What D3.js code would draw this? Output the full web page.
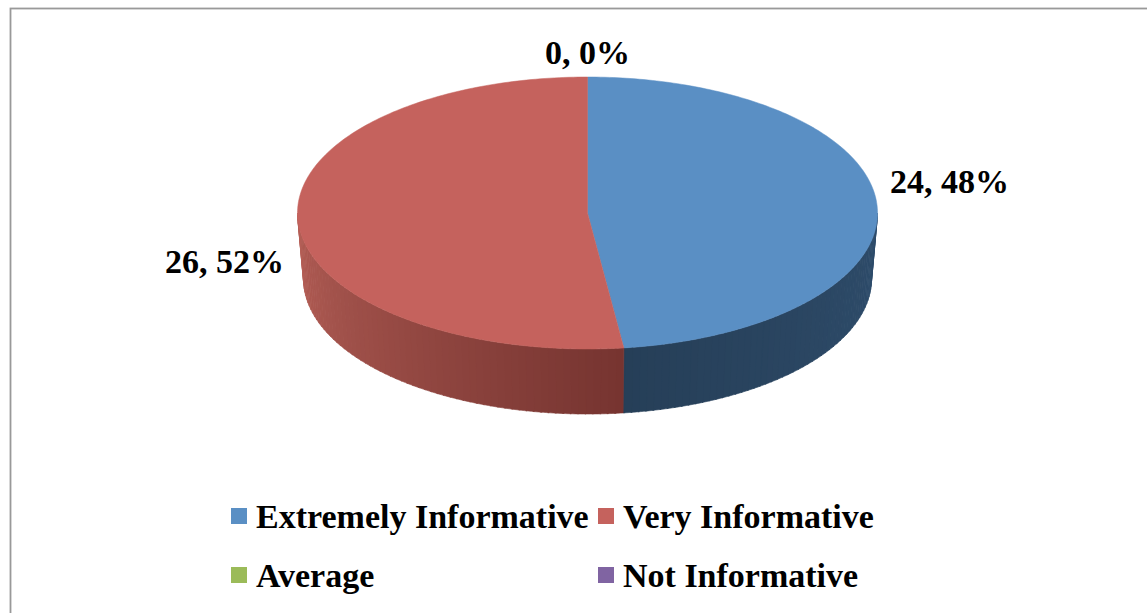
<html>
    <head>
        <script src="https://d3js.org/d3.v7.min.js"></script>
        <style type="text/css">
        body { margin: 0; background: #fff; }
        text { font-family: "Liberation Serif", "DejaVu Serif", serif; font-weight: bold; fill: #000; }
        </style>
    </head>
    <body>
        <div id="chart"></div>

<script type="text/javascript">

// data
const categories = ["Extremely Informative", "Very Informative", "Average", "Not Informative"];
const values = [24, 26, 0, 0];
const topColors = ["#5a8fc4", "#c5625d", "#9bbb59", "#8064a2"];
// wall shades: [lighter end, darker end]
const wallColors = [["#2f4d6c", "#263f58"], ["#b55f57", "#763430"], ["#7d9645", "#62763a"], ["#65507f", "#4f3e63"]];

const W = 1147, H = 613;
const cx = 587.5, cy = 213, rx = 290, ry = 136, depth = 66;
const rxb = rx - 6, ryb = ry - 1;

let svg = d3.select("#chart")
    .append("svg")
        .attr("width", W)
        .attr("height", H);

// frame
svg.append("rect")
    .attr("x", 10.5).attr("y", 8.5)
    .attr("width", W + 20).attr("height", H + 20)
    .attr("fill", "none")
    .attr("stroke", "#999")
    .attr("stroke-width", 1.8);

const total = d3.sum(values);
const arcs = d3.pie().sort(null).startAngle(0).endAngle(2 * Math.PI)(values);

function topPt(a) { return [cx + rx * Math.sin(a), cy - ry * Math.cos(a)]; }
function botPt(a) { return [cx + rxb * Math.sin(a), cy + depth - ryb * Math.cos(a)]; }

const line = d3.line();

// walls (front half only: angle between PI/2 and 3PI/2)
const wallG = svg.append("g");
arcs.forEach(function(d, i) {
    const a0 = Math.max(d.startAngle, Math.PI / 2);
    const a1 = Math.min(d.endAngle, 3 * Math.PI / 2);
    if (a1 <= a0) return;
    // color goes from lighter to darker depending on side
    const shade = d3.scaleLinear()
        .domain(i === 0 ? [a0, a1] : [a1, a0])
        .range(wallColors[i])
        .interpolate(d3.interpolateRgb);
    const step = Math.PI / 180 * 1.5;
    for (let a = a0; a < a1; a += step) {
        const b = Math.min(a + step + 0.004, a1);
        const pts = [];
        for (let t = a; t <= b; t += (b - a) / 3) pts.push(topPt(t));
        pts.push(topPt(b));
        const bot = [];
        for (let t = a; t <= b; t += (b - a) / 3) bot.push(botPt(t));
        bot.push(botPt(b));
        wallG.append("path")
            .attr("d", line(pts.concat(bot.reverse())) + "Z")
            .attr("fill", shade((a + b) / 2))
            .attr("stroke", shade((a + b) / 2))
            .attr("stroke-width", 0.6);
    }
});

// top faces
svg.append("g")
    .selectAll("path")
    .data(arcs.filter(function(d) { return d.endAngle > d.startAngle; }))
    .enter().append("path")
        .attr("d", function(d) {
            const pts = [[cx, cy]];
            const n = 200;
            for (let k = 0; k <= n; k++) {
                pts.push(topPt(d.startAngle + (d.endAngle - d.startAngle) * k / n));
            }
            return line(pts) + "Z";
        })
        .attr("fill", function(d) { return topColors[d.index]; })
        .attr("stroke", function(d) { return topColors[d.index]; })
        .attr("stroke-width", 0.5);

// data labels
const seen = {};
arcs.forEach(function(d) {
    const mid = (d.startAngle + d.endAngle) / 2;
    const p = topPt(mid);
    const s = Math.sin(mid);
    const txt = values[d.index] + ", " + Math.round(values[d.index] / total * 100) + "%";
    let x = p[0], y = p[1], anchor = "middle";
    if (s > 0.5) { anchor = "start"; x += 13; y -= 11; }
    else if (s < -0.5) { anchor = "end"; x -= 14; y += 51; }
    else { y -= 13; }
    const key = txt + Math.round(x) + "," + Math.round(y);
    if (seen[key]) return;
    seen[key] = true;
    svg.append("text")
        .attr("x", x).attr("y", y)
        .attr("text-anchor", anchor)
        .attr("font-size", 34)
        .text(txt);
});

// legend
const legX = [231, 598];
const legY = [508, 567];
const leg = svg.append("g")
    .selectAll("g")
    .data(categories)
    .enter().append("g")
        .attr("transform", function(d, i) {
            return "translate(" + legX[i % 2] + "," + legY[Math.floor(i / 2)] + ")";
        });
leg.append("rect")
    .attr("width", 16).attr("height", 16)
    .attr("fill", function(d, i) { return topColors[i]; });
leg.append("text")
    .attr("x", 25).attr("y", 20)
    .attr("font-size", 34)
    .text(function(d) { return d; });
</script>
</body>
</html>
